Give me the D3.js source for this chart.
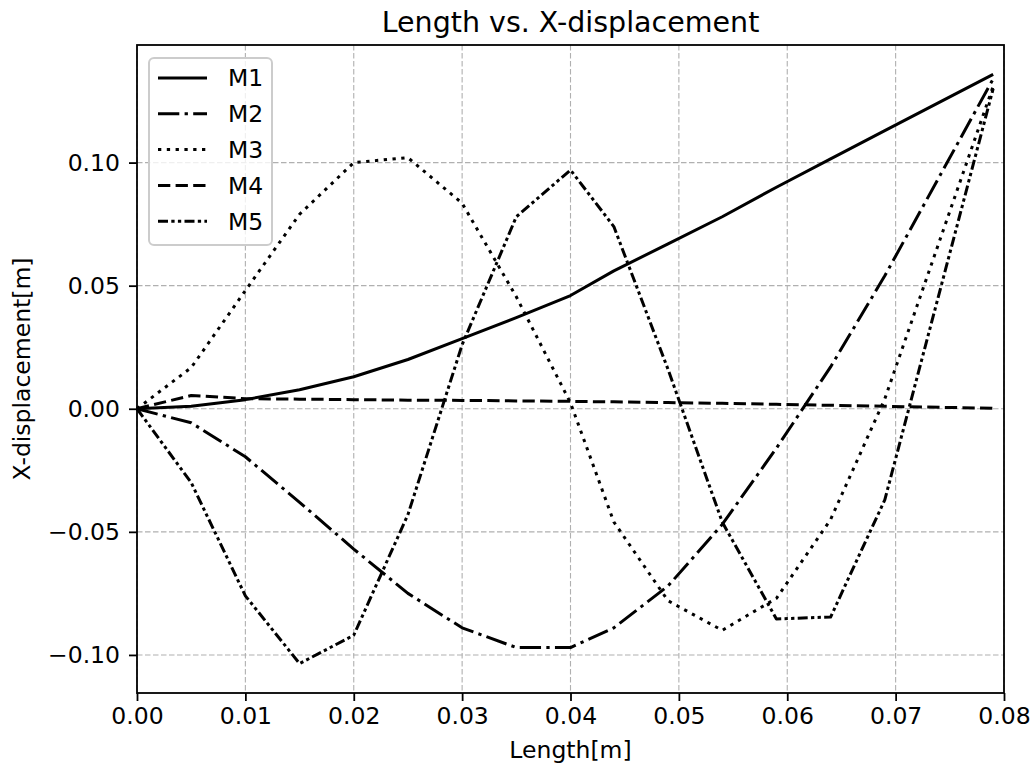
<!DOCTYPE html>
<html>
<head>
<meta charset="utf-8">
<script src="https://cdn.jsdelivr.net/npm/d3@7"></script>
<style>
  body { margin: 0; background: #fff; }
  svg text { font-family: "DejaVu Sans", sans-serif; fill: #000; }
</style>
</head>
<body>
<div id="chart"></div>
<script>
// Length along the member [m]
var lengths = [0, 0.005, 0.01, 0.015, 0.02, 0.025, 0.03, 0.035, 0.04, 0.044, 0.049, 0.054, 0.059, 0.064, 0.069, 0.079];

// X-displacement of each mode [m]
var m1 = [0, 0.001, 0.0037, 0.0077, 0.013, 0.020, 0.0285, 0.037, 0.046, 0.056, 0.067, 0.078, 0.090, 0.1015, 0.113, 0.1358];
var m2 = [0, -0.0057, -0.0195, -0.038, -0.057, -0.075, -0.089, -0.097, -0.097, -0.089, -0.072, -0.047, -0.016, 0.017, 0.054, 0.134];
var m3 = [0, 0.0167, 0.048, 0.079, 0.100, 0.102, 0.0835, 0.0455, 0.0024, -0.046, -0.078, -0.090, -0.077, -0.045, 0.004, 0.131];
var m4 = [0, 0.0054, 0.0041, 0.0039, 0.0037, 0.0035, 0.0034, 0.0032, 0.003, 0.0028, 0.0025, 0.0022, 0.0018, 0.0014, 0.001, 0.0002];
var m5 = [0, -0.030, -0.076, -0.1035, -0.092, -0.043, 0.026, 0.078, 0.097, 0.074, 0.016, -0.046, -0.0854, -0.0846, -0.037, 0.130];

var seriesNames = ["M1", "M2", "M3", "M4", "M5"];
var seriesValues = [m1, m2, m3, m4, m5];

var xTicks = [0, 0.01, 0.02, 0.03, 0.04, 0.05, 0.06, 0.07, 0.08];
var yTicks = [-0.10, -0.05, 0, 0.05, 0.10];

// line styles, matplotlib-like dash patterns scaled to the line width
var dashes = ["none", "21.3,5.3,3.3,5.3", "3.3,5.5", "12.3,5.3", "10,3.3,3.3,3.3,3.3,3.3"];

var W = 1036, H = 771;
var margin = {top: 45, right: 32, bottom: 78, left: 137};
var width = W - margin.left - margin.right;
var height = H - margin.top - margin.bottom;

var svg = d3.select("#chart").append("svg")
    .attr("width", W)
    .attr("height", H);

var g = svg.append("g")
    .attr("transform", "translate(" + margin.left + "," + margin.top + ")");

//Scales (y padded by 5% like matplotlib autoscale)
var x = d3.scaleLinear().domain([0, 0.08]).range([0, width]);

var all = d3.merge(seriesValues);
var ymin = d3.min(all), ymax = d3.max(all);
var pad = (ymax - ymin) * 0.05;
var y = d3.scaleLinear().domain([ymin - pad, ymax + pad]).range([height, 0]);

//Grid
g.append("g").selectAll("line").data(xTicks).enter().append("line")
    .attr("x1", function (d) { return x(d); })
    .attr("x2", function (d) { return x(d); })
    .attr("y1", 0).attr("y2", height)
    .attr("stroke", "#b0b0b0").attr("stroke-width", 1.1)
    .attr("stroke-dasharray", "5.5,2.5");

g.append("g").selectAll("line").data(yTicks).enter().append("line")
    .attr("x1", 0).attr("x2", width)
    .attr("y1", function (d) { return y(d); })
    .attr("y2", function (d) { return y(d); })
    .attr("stroke", "#b0b0b0").attr("stroke-width", 1.1)
    .attr("stroke-dasharray", "5.5,2.5");

//Lines
var line = d3.line()
    .x(function (d, i) { return x(lengths[i]); })
    .y(function (d) { return y(d); });

g.append("g").selectAll("path").data(seriesValues).enter().append("path")
    .attr("d", line)
    .attr("fill", "none")
    .attr("stroke", "#000")
    .attr("stroke-width", 3)
    .attr("stroke-linejoin", "round")
    .attr("stroke-dasharray", function (d, i) { return dashes[i]; });

//Axes
var fmt = d3.format(".2f");
var minusFmt = function (d) { return fmt(d).replace("-", "\u2212"); };

var xAxis = g.append("g")
    .attr("transform", "translate(0," + height + ")")
    .call(d3.axisBottom(x).tickValues(xTicks).tickFormat(fmt).tickSize(8).tickPadding(6));

var yAxis = g.append("g")
    .call(d3.axisLeft(y).tickValues(yTicks).tickFormat(minusFmt).tickSize(8).tickPadding(9));

[xAxis, yAxis].forEach(function (ax) {
    ax.select(".domain").remove();
    ax.selectAll(".tick line").attr("stroke", "#000").attr("stroke-width", 1.8);
    ax.selectAll(".tick text")
        .attr("font-size", "23.5px")
        .attr("font-family", "DejaVu Sans");
});

//Frame
g.append("rect")
    .attr("width", width).attr("height", height)
    .attr("fill", "none").attr("stroke", "#000").attr("stroke-width", 1.8);

//Labels
svg.append("text")
    .attr("x", margin.left + width / 2).attr("y", 32)
    .attr("text-anchor", "middle").attr("font-size", "28.5px")
    .text("Length vs. X-displacement");

svg.append("text")
    .attr("x", margin.left + width / 2).attr("y", 758)
    .attr("text-anchor", "middle").attr("font-size", "23.5px")
    .text("Length[m]");

svg.append("text")
    .attr("transform", "translate(30," + (margin.top + height / 2) + ") rotate(-90)")
    .attr("text-anchor", "middle").attr("font-size", "23.5px")
    .text("X-displacement[m]");

//Legend
var legend = g.append("g").attr("transform", "translate(12,13)");

legend.append("rect")
    .attr("width", 123).attr("height", 187)
    .attr("rx", 5).attr("ry", 5)
    .attr("fill", "#fff").attr("fill-opacity", 0.8)
    .attr("stroke", "#cccccc").attr("stroke-width", 2);

var items = legend.selectAll(".item").data(seriesNames).enter().append("g")
    .attr("transform", function (d, i) { return "translate(0," + (20 + i * 35.8) + ")"; });

items.append("line")
    .attr("x1", 9).attr("x2", 58)
    .attr("stroke", "#000").attr("stroke-width", 3)
    .attr("stroke-dasharray", function (d, i) { return dashes[i]; });

items.append("text")
    .attr("x", 79).attr("dy", "0.36em")
    .attr("font-size", "23.5px")
    .text(function (d) { return d; });
</script>
</body>
</html>
